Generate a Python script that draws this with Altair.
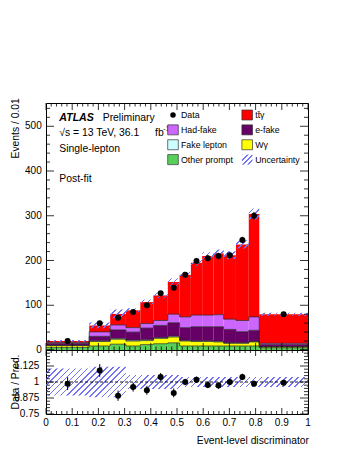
import altair as alt
import pandas as pd
import numpy as np

# ---------------- values ----------------
bin_edges = [0.0, 0.165, 0.245, 0.305, 0.36, 0.41, 0.465, 0.51, 0.553, 0.596,
             0.639, 0.678, 0.725, 0.774, 0.814, 1.0]
other_prompt = [6, 9, 13, 9, 12, 14, 16, 9, 9, 9, 9, 9, 9, 9, 5]
w_gamma      = [4, 10, 11, 11, 9, 12, 13, 11, 10, 10, 9, 6, 6, 9, 2]
fake_lepton  = [0.5, 1.5, 2, 2, 2, 1.5, 2, 1.5, 1.5, 1.5, 1.5, 1, 1, 1, 0.5]
e_fake       = [4, 10, 19, 18, 26, 27.5, 30, 28.5, 31.5, 31.5, 32.5, 30, 25, 25, 5]
had_fake     = [2.5, 10, 11, 10, 10, 11, 19, 24, 26, 26, 27, 23, 25, 30, 2.5]
tt_gamma     = [3.3, 14.5, 24.6, 38.5, 48, 56, 72, 94, 117, 132, 137, 143, 170, 230, 65]
data_vals    = [20, 60, 72, 85, 100, 127, 139, 168, 199, 205, 210, 212, 246, 300, 80]
data_err     = [1.1, 2.7, 3.5, 3.9, 4.5, 4.8, 5.5, 6.2, 6.8, 7.0, 7.3, 6.7, 7.1, 8.7, 2.1]
ratio_vals   = [0.987, 1.09, 0.893, 0.96, 0.935, 1.04, 0.915, 1.0, 1.018, 0.977,
                0.972, 1.0, 1.04, 0.987, 0.995]
ratio_err    = [0.05, 0.05, 0.04, 0.035, 0.035, 0.03, 0.035, 0.025, 0.025, 0.025,
                0.025, 0.025, 0.025, 0.025, 0.015]
unc_rel      = [0.105, 0.12, 0.12, 0.055, 0.055, 0.055, 0.055, 0.04, 0.04, 0.04,
                0.04, 0.04, 0.04, 0.04, 0.04]

comp_names  = ["Other prompt", "W\u03b3", "Fake lepton", "e-fake", "Had-fake", "tt\u0304\u03b3"]
comp_values = [other_prompt, w_gamma, fake_lepton, e_fake, had_fake, tt_gamma]
comp_colors = ["#58d058", "#ffff00", "#ccffff", "#660066", "#cc66ff", "#ff0000"]

x_tick_labels = [0.0, 0.1, 0.2, 0.3, 0.4, 0.5, 0.6, 0.7, 0.8, 0.9, 1.0]
x_tick_text = ["0", "0.1", "0.2", "0.3", "0.4", "0.5", "0.6", "0.7", "0.8", "0.9", "1"]
main_y_labels = [0, 100, 200, 300, 400, 500]
ratio_y_labels = [0.75, 0.875, 1.0, 1.125]
ratio_y_text = ["0.75", "0.875", "1", "1.125"]

# ---------------- layout constants ----------------
W = 262
H_MAIN = 247
H_RATIO = 64
Y_MAX = 552
R_MIN, R_MAX = 0.75, 1.25
FONT = "Liberation Sans"
HATCH = "#7474f2"
TITLE_X = -27.5

xs = alt.Scale(domain=[0, 1], nice=False, zero=False)
ys_main = alt.Scale(domain=[0, Y_MAX], nice=False)
ys_ratio = alt.Scale(domain=[R_MIN, R_MAX], nice=False, zero=False)
cscale = alt.Scale(domain=comp_names, range=comp_colors)


def hatch_fill(w, h, period=4.3, frac=0.27, color=HATCH):
    r = h / w
    k = (1 + r) / (1 + r * r)
    n = max(1, int(round((w + h) / np.sqrt(2) / period)))
    clear = "rgba(116,116,242,0)"
    stops = []
    for i in range(n):
        a, b, c = i / n, (i + frac) / n, (i + 1) / n
        stops += [{"offset": a, "color": color}, {"offset": b, "color": color},
                  {"offset": b, "color": clear}, {"offset": c, "color": clear}]
    return {"gradient": "linear", "x1": 0, "y1": 0, "x2": k, "y2": k * r, "stops": stops}


nb = len(bin_edges) - 1
lo = bin_edges[:-1]
hi = bin_edges[1:]
centers = [(a + b) / 2 for a, b in zip(lo, hi)]

rows = []
cum = np.zeros(nb)
tops = []
for name, vals in zip(comp_names, comp_values):
    v = np.array(vals, dtype=float)
    for i in range(nb):
        rows.append({"lo": lo[i], "hi": hi[i], "y0": cum[i], "y1": cum[i] + v[i], "comp": name})
    cum = cum + v
    tops.append(cum.copy())
stack_df = pd.DataFrame(rows)
total = cum

line_rows = []
for name, t in zip(comp_names[:-1], tops[:-1]):
    for i in range(nb):
        line_rows.append({"x": lo[i], "y": t[i], "comp": name})
    line_rows.append({"x": 1.0, "y": t[-1], "comp": name})
line_df = pd.DataFrame(line_rows)

u = np.array(unc_rel)
band_main = pd.DataFrame({"x": list(lo) + [1.0],
                          "lo": list(total * (1 - u)) + [total[-1] * (1 - u[-1])],
                          "hi": list(total * (1 + u)) + [total[-1] * (1 + u[-1])]})
band_ratio = pd.DataFrame({"x": list(lo) + [1.0],
                           "lo": list(1 - u) + [1 - u[-1]],
                           "hi": list(1 + u) + [1 + u[-1]]})
hm = (band_main["hi"].max() - band_main["lo"].min()) * H_MAIN / Y_MAX
hr = (band_ratio["hi"].max() - band_ratio["lo"].min()) * H_RATIO / (R_MAX - R_MIN)

pts = pd.DataFrame({"x": centers, "y": data_vals,
                    "lo": np.array(data_vals) - np.array(data_err),
                    "hi": np.array(data_vals) + np.array(data_err)})
rpts = pd.DataFrame({"x": centers, "y": ratio_vals,
                     "lo": np.array(ratio_vals) - np.array(ratio_err),
                     "hi": np.array(ratio_vals) + np.array(ratio_err)})


def X(f):
    return alt.X(f, scale=xs, axis=None)


def ticks(xmaj, xmin, ymaj, ymin, h, yscale, xlen, ylen):
    out = []
    for vals, L in [(xmaj, xlen[0]), (xmin, xlen[1])]:
        base = alt.Chart(pd.DataFrame({"v": vals})).mark_rule(color="black", strokeWidth=0.8)
        out.append(base.encode(x=X("v:Q"), y=alt.value(h), y2=alt.value(h - L)))
        out.append(base.encode(x=X("v:Q"), y=alt.value(0), y2=alt.value(L)))
    for vals, L in [(ymaj, ylen[0]), (ymin, ylen[1])]:
        base = alt.Chart(pd.DataFrame({"v": vals})).mark_rule(color="black", strokeWidth=0.8)
        ye = alt.Y("v:Q", scale=yscale, axis=None)
        out.append(base.encode(y=ye, x=alt.value(0), x2=alt.value(L)))
        out.append(base.encode(y=ye, x=alt.value(W), x2=alt.value(W - L)))
    return out


x_minor = [round(0.02 * k, 3) for k in range(51) if k % 5 != 0]
main_minor = [v for v in range(0, Y_MAX, 20) if v % 100 != 0]
main_major = [v for v in range(0, Y_MAX, 100)]
r_major = [0.75, 0.875, 1.0, 1.125, 1.25]
r_minor = [round(R_MIN + 0.025 * k, 4) for k in range(21) if k % 5 != 0]


def txt(s, x, y, size=10.4, align="left", angle=0, **kw):
    return alt.Chart(pd.DataFrame({"t": [s]})).mark_text(
        align=align, baseline="alphabetic", font=FONT, fontSize=size, color="black",
        angle=angle, **kw
    ).encode(text="t:N", x=alt.value(x), y=alt.value(y))


# ---------------- main panel ----------------
stack = alt.Chart(stack_df).mark_rect(strokeWidth=0).encode(
    x=X("lo:Q"), x2="hi:Q",
    y=alt.Y("y0:Q", scale=ys_main, axis=None), y2="y1:Q",
    color=alt.Color("comp:N", scale=cscale, legend=None),
)
outlines = alt.Chart(line_df).mark_line(interpolate="step-after", color="#222222", strokeWidth=0.7).encode(
    x=X("x:Q"), y=alt.Y("y:Q", scale=ys_main, axis=None), detail="comp:N")
band = alt.Chart(band_main).mark_area(interpolate="step-after", fill=hatch_fill(W, hm)).encode(
    x=X("x:Q"), y=alt.Y("lo:Q", scale=ys_main, axis=None), y2="hi:Q")
errs = alt.Chart(pts).mark_rule(color="black", strokeWidth=1).encode(
    x=X("x:Q"), y=alt.Y("lo:Q", scale=ys_main, axis=None), y2="hi:Q")
dots = alt.Chart(pts).mark_circle(color="black", opacity=1, size=36).encode(
    x=X("x:Q"), y=alt.Y("y:Q", scale=ys_main, axis=None))

main_ylab = alt.Chart(pd.DataFrame({"v": main_y_labels, "t": [str(v) for v in main_y_labels]})).mark_text(
    align="right", baseline="middle", font=FONT, fontSize=10, color="black").encode(
    y=alt.Y("v:Q", scale=ys_main, axis=None), x=alt.value(-4.3), text="t:N")

texts = [
    txt("ATLAS", 13.3, 18.3, 10.6, fontStyle="italic", fontWeight="bold"),
    txt("Preliminary", 56.7, 18.3),
    txt("\u221as = 13 TeV, 36.1", 13.3, 33.3),
    txt("fb", 109.0, 33.3),
    txt("-1", 117.3, 27.8, 7),
    txt("Single-lepton", 13.3, 48.5),
    txt("Post-fit", 13.3, 78.5),
    txt("Events / 0.01", TITLE_X, -4.7, 10.3, align="right", angle=270),
]

legend_labels = ["Data", comp_names[5], comp_names[4], comp_names[3],
                 comp_names[2], comp_names[1], comp_names[0], "Uncertainty"]
LX0, LDX, LY0, LDY = 127.0, 74.2, 12.0, 14.87
leg = pd.DataFrame({"label": legend_labels})
leg["cx"] = LX0 + (leg.index % 2) * LDX
leg["cy"] = LY0 + (leg.index // 2) * LDY
leg["x1"], leg["x2"] = leg["cx"] - 5.3, leg["cx"] + 5.3
leg["y1"], leg["y2"] = leg["cy"] - 5.0, leg["cy"] + 5.0
leg["tx"], leg["ty"] = leg["cx"] + 8, leg["cy"] + 3.2
sw = leg[leg["label"].isin(comp_names)]
unc = leg[leg["label"] == "Uncertainty"]
dat = leg[leg["label"] == "Data"]

leg_rect = alt.Chart(sw).mark_rect(stroke="#333333", strokeWidth=0.7).encode(
    x=alt.X("x1:Q", scale=None), x2="x2:Q", y=alt.Y("y1:Q", scale=None), y2="y2:Q",
    color=alt.Color("label:N", scale=cscale, legend=None))
leg_unc = alt.Chart(unc).mark_rect(fill=hatch_fill(10.6, 10.0, period=3.6)).encode(
    x=alt.X("x1:Q", scale=None), x2="x2:Q", y=alt.Y("y1:Q", scale=None), y2="y2:Q")
leg_dot = alt.Chart(dat).mark_circle(color="black", opacity=1, size=30).encode(
    x=alt.X("cx:Q", scale=None), y=alt.Y("cy:Q", scale=None))
leg_txt = alt.Chart(leg).mark_text(align="left", baseline="alphabetic", font=FONT,
                                   fontSize=8.8, color="black").encode(
    x=alt.X("tx:Q", scale=None), y=alt.Y("ty:Q", scale=None), text="label:N")

main = alt.layer(
    stack, outlines, band, errs, dots,
    *ticks(x_tick_labels, x_minor, main_major, main_minor, H_MAIN, ys_main, (7, 3.5), (8, 4)),
    main_ylab, *texts, leg_rect, leg_unc, leg_dot, leg_txt,
).properties(width=W, height=H_MAIN)

# ---------------- ratio panel ----------------
rband = alt.Chart(band_ratio).mark_area(interpolate="step-after", fill=hatch_fill(W, hr)).encode(
    x=X("x:Q"), y=alt.Y("lo:Q", scale=ys_ratio, axis=None), y2="hi:Q")
one = alt.Chart(pd.DataFrame({"v": [1.0]})).mark_rule(
    color="black", strokeDash=[3, 2], strokeWidth=0.9).encode(y=alt.Y("v:Q", scale=ys_ratio, axis=None))
rerr = alt.Chart(rpts).mark_rule(color="black", strokeWidth=1).encode(
    x=X("x:Q"), y=alt.Y("lo:Q", scale=ys_ratio, axis=None), y2="hi:Q")
rdots = alt.Chart(rpts).mark_circle(color="black", opacity=1, size=36).encode(
    x=X("x:Q"), y=alt.Y("y:Q", scale=ys_ratio, axis=None))
r_ylab = alt.Chart(pd.DataFrame({"v": ratio_y_labels, "t": ratio_y_text})).mark_text(
    align="right", baseline="middle", font=FONT, fontSize=10, color="black").encode(
    y=alt.Y("v:Q", scale=ys_ratio, axis=None), x=alt.value(-6.7), text="t:N")
r_xlab = alt.Chart(pd.DataFrame({"v": x_tick_labels, "t": x_tick_text})).mark_text(
    align="center", baseline="alphabetic", font=FONT, fontSize=10, color="black").encode(
    x=X("v:Q"), y=alt.value(76), text="t:N")

ratio = alt.layer(
    rband, one, rerr, rdots,
    *ticks(x_tick_labels, x_minor, r_major, r_minor, H_RATIO, ys_ratio, (6, 3), (8, 4)),
    r_ylab, r_xlab,
    txt("Data / Pred.", TITLE_X, 32, 10.3, align="center", angle=270),
    txt("Event-level discriminator", W + 1, 93.7, 10.3, align="right"),
).properties(width=W, height=H_RATIO)

chart = alt.vconcat(main, ratio, spacing=0, bounds="flush").properties(
    padding={"left": 2, "top": 89, "right": 0, "bottom": 0}
).configure_view(stroke="black", strokeWidth=1).configure_concat(spacing=0)

chart.save("out.html", embed_options={"renderer": "svg", "actions": False})
